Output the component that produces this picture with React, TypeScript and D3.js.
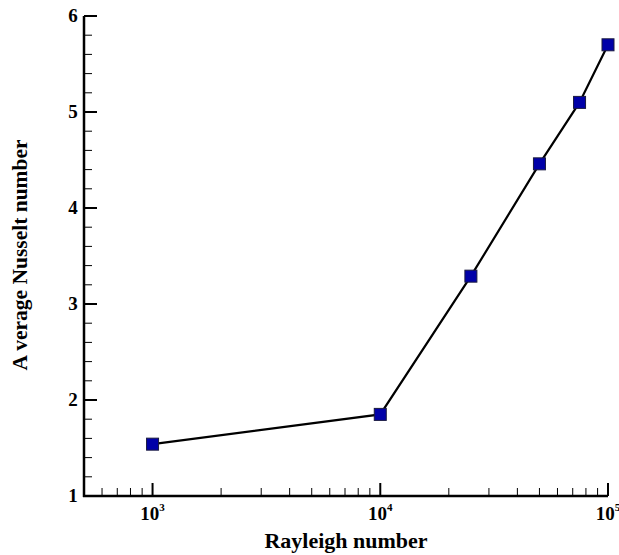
import React, { useRef, useEffect } from "react";
import * as d3 from "d3";

const rayleigh = [1e3, 1e4, 2.5e4, 5e4, 7.5e4, 1e5];
const nusselt = [1.54, 1.85, 3.29, 4.46, 5.1, 5.7];
const yTicks = [1, 2, 3, 4, 5, 6];
const xMajor = [1e3, 1e4, 1e5];
const xLabels = ["3", "4", "5"];

const width = 619;
const height = 555;
const margin = { top: 16, right: 11, bottom: 59, left: 84 };
const font = "Liberation Serif";

const App = () => {
  const svgRef = useRef<SVGSVGElement>(null);

  useEffect(() => {
    const svg = d3.select(svgRef.current);
    svg.selectAll("*").remove();

    const plotW = width - margin.left - margin.right;
    const plotH = height - margin.top - margin.bottom;

    const x = d3.scaleLog([500, 1e5], [0, plotW]);
    const y = d3.scaleLinear([1, 6], [plotH, 0]);

    const g = svg.append("g").attr("transform", `translate(${margin.left},${margin.top})`);

    // minor ticks on x
    const xMinor: number[] = [];
    for (let d = 100; d <= 1e4; d *= 10) {
      for (let k = 2; k <= 9; k++) {
        const v = d * k;
        if (v >= 500 && v < 1e5 && !xMajor.includes(v)) xMinor.push(v);
      }
    }
    g.append("g")
      .selectAll("line")
      .data(xMinor)
      .join("line")
      .attr("x1", (d) => x(d))
      .attr("x2", (d) => x(d))
      .attr("y1", plotH)
      .attr("y2", plotH - 8)
      .attr("stroke", "black")
      .attr("stroke-width", 1);

    g.append("g")
      .selectAll("line")
      .data(xMajor)
      .join("line")
      .attr("x1", (d) => x(d))
      .attr("x2", (d) => x(d))
      .attr("y1", plotH)
      .attr("y2", plotH - 13)
      .attr("stroke", "black")
      .attr("stroke-width", 2);

    // minor ticks on y
    const yMinor = d3.range(1, 6.001, 0.2).filter((v) => Math.abs(v - Math.round(v)) > 0.01);
    g.append("g")
      .selectAll("line")
      .data(yMinor)
      .join("line")
      .attr("x1", 0)
      .attr("x2", 8)
      .attr("y1", (d) => y(d))
      .attr("y2", (d) => y(d))
      .attr("stroke", "black")
      .attr("stroke-width", 1);

    g.append("g")
      .selectAll("line")
      .data(yTicks)
      .join("line")
      .attr("x1", 0)
      .attr("x2", 13)
      .attr("y1", (d) => y(d))
      .attr("y2", (d) => y(d))
      .attr("stroke", "black")
      .attr("stroke-width", 2);

    // axis lines
    g.append("line")
      .attr("x1", 0)
      .attr("x2", 0)
      .attr("y1", 0)
      .attr("y2", plotH + 1)
      .attr("stroke", "black")
      .attr("stroke-width", 2.5);
    g.append("line")
      .attr("x1", -1)
      .attr("x2", plotW)
      .attr("y1", plotH)
      .attr("y2", plotH)
      .attr("stroke", "black")
      .attr("stroke-width", 2.5);

    // y tick labels
    g.append("g")
      .selectAll("text")
      .data(yTicks)
      .join("text")
      .attr("x", -11)
      .attr("y", (d) => y(d) + 6)
      .attr("text-anchor", "middle")
      .attr("font-family", font)
      .attr("font-weight", 700)
      .attr("font-size", 19)
      .text((d) => d);

    // x tick labels: 10^n
    const xl = g
      .append("g")
      .selectAll("text")
      .data(xMajor)
      .join("text")
      .attr("x", (d) => x(d))
      .attr("y", plotH + 24)
      .attr("text-anchor", "middle")
      .attr("font-family", font)
      .attr("font-weight", 700)
      .attr("font-size", 19);
    xl.append("tspan").text("10");
    xl.append("tspan")
      .attr("dy", -9)
      .attr("font-size", 11)
      .text((d, i) => xLabels[i]);

    // line + markers
    const pts = rayleigh.map((r, i) => [r, nusselt[i]] as [number, number]);
    const line = d3
      .line<[number, number]>()
      .x((d) => x(d[0]))
      .y((d) => y(d[1]));
    g.append("path")
      .attr("d", line(pts))
      .attr("fill", "none")
      .attr("stroke", "black")
      .attr("stroke-width", 2.2);

    g.append("g")
      .selectAll("rect")
      .data(pts)
      .join("rect")
      .attr("x", (d) => x(d[0]) - 6)
      .attr("y", (d) => y(d[1]) - 6)
      .attr("width", 12)
      .attr("height", 12)
      .attr("fill", "#0000a8")
      .attr("stroke", "#1a1a40")
      .attr("stroke-width", 1);

    // titles
    svg
      .append("text")
      .attr("x", 346)
      .attr("y", 548)
      .attr("text-anchor", "middle")
      .attr("font-family", font)
      .attr("font-weight", 700)
      .attr("font-size", 22)
      .text("Rayleigh number");

    svg
      .append("text")
      .attr("transform", `translate(27, 255) rotate(-90)`)
      .attr("text-anchor", "middle")
      .attr("font-family", font)
      .attr("font-weight", 700)
      .attr("font-size", 21.5)
      .text("A verage Nusselt number");
  }, []);

  return (
    <svg
      ref={svgRef}
      width={width}
      height={height}
      style={{ position: "absolute", left: 0, top: 0, background: "white" }}
    />
  );
};

export default App;
